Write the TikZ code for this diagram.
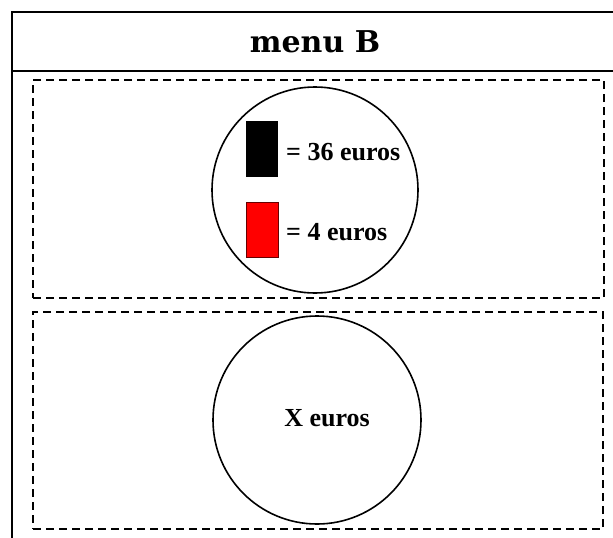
\documentclass[tikz,border=0pt]{standalone}
\usepackage{fontspec}
\setmainfont{Liberation Serif}
\newfontfamily\titlefont{DejaVu Serif}
\begin{document}
\begin{tikzpicture}[x=1pt,y=-1pt,
  frame/.style={draw=black,line width=2pt},
  dashbox/.style={rectangle,draw=black,line width=1.8pt,dash pattern=on 8pt off 5pt,inner sep=0pt},
  ring/.style={circle,draw=black,line width=1.6pt,inner sep=0pt},
  swatch/.style={rectangle,minimum width=32pt,minimum height=56pt,inner sep=0pt},
  lbl/.style={font=\bfseries\fontsize{26}{28}\selectfont,inner sep=0pt}]
\useasboundingbox (0,0) rectangle (613,538);
\clip (0,0) rectangle (613,538);
\fill[white] (0,0) rectangle (613,538);
\draw[frame] (12,12) rectangle (640,570);
\draw[frame] (12,71) -- (640,71);
\node[font=\titlefont\bfseries\fontsize{30}{32}\selectfont,inner sep=0pt] (title) at (315,42) {menu B};
\node[dashbox,minimum width=571pt,minimum height=218pt] (topbox) at (318.5,189) {};
\node[dashbox,minimum width=570pt,minimum height=217pt] (botbox) at (318,420.5) {};
\node[ring,minimum size=206pt] (c1) at (315,190) {};
\node[ring,minimum size=208pt] (c2) at (317,420) {};
\node[swatch,fill=black] (blk) at (262,149) {};
\node[swatch,fill=red,draw=black!60!red,line width=1pt,minimum height=55pt] (rd) at (262,229.5) {};
\node[lbl,anchor=west] (l36) at (286,152) {= 36 euros};
\node[lbl,anchor=west] (l4) at (286,232) {= 4 euros};
\node[lbl] (lx) at (327,418) {X euros};
\end{tikzpicture}
\end{document}
